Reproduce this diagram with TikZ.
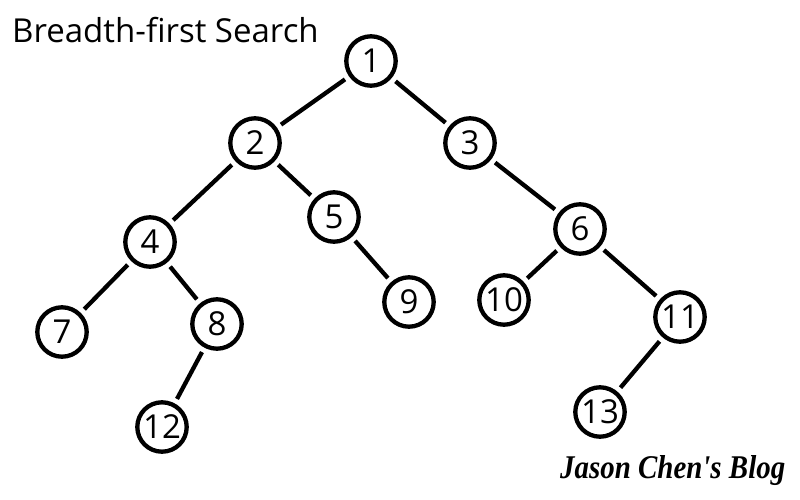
\documentclass[tikz,border=0pt]{standalone}
\usepackage{fontspec}
\setmainfont{Open Sans}
\newfontfamily\blogfont{Liberation Serif}
\begin{document}
\begin{tikzpicture}[x=1pt,y=-1pt,
  vert/.style={circle,draw,line width=4.3pt,minimum size=49.4pt,inner sep=0pt,
    font=\fontsize{33}{33}\selectfont},
  edge/.style={line width=4.3pt,shorten <=5pt,shorten >=5pt}]
\useasboundingbox (0,0) rectangle (800,500);
\node[anchor=base west,inner sep=0pt,font=\fontsize{33}{33}\selectfont] (title) at (12,43) {Breadth-first Search};
\node[vert] (n1) at (371,61) {1};
\node[vert] (n2) at (255,143) {2};
\node[vert] (n3) at (470,143) {3};
\node[vert] (n4) at (150,242) {4};
\node[vert] (n5) at (334,217) {5};
\node[vert] (n6) at (580,229) {6};
\node[vert] (n7) at (62,332) {7};
\node[vert] (n8) at (217,324) {8};
\node[vert] (n9) at (409,302) {9};
\node[vert] (n10) at (504,300) {10};
\node[vert] (n11) at (680,317) {11};
\node[vert] (n12) at (162,427) {12};
\node[vert] (n13) at (600,412) {13};
\draw[edge] (n1) -- (n2);
\draw[edge] (n1) -- (n3);
\draw[edge] (n2) -- (n4);
\draw[edge] (n2) -- (n5);
\draw[edge] (n3) -- (n6);
\draw[edge] (n4) -- (n7);
\draw[edge] (n4) -- (n8);
\draw[edge] (n5) -- (n9);
\draw[edge] (n6) -- (n10);
\draw[edge] (n6) -- (n11);
\draw[edge] (n8) -- (n12);
\draw[edge] (n11) -- (n13);
\node[anchor=base west,inner sep=0pt] (blog) at (560,478) {\resizebox{225pt}{23pt}{\blogfont\bfseries\itshape Jason Chen's Blog}};
\end{tikzpicture}
\end{document}
